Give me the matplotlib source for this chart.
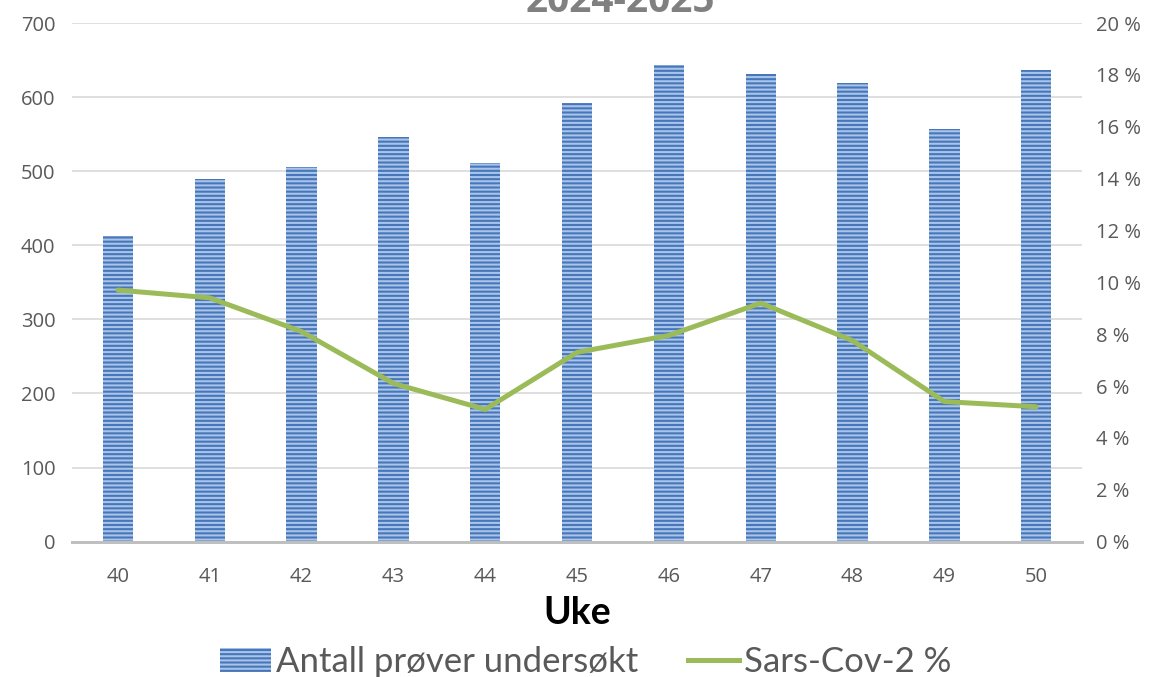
import matplotlib.pyplot as plt
from matplotlib.patches import Patch
from matplotlib.lines import Line2D
from matplotlib.ticker import FuncFormatter

plt.rcParams["font.family"] = ["Open Sans", "DejaVu Sans"]
plt.rcParams["hatch.linewidth"] = 1.5

weeks = ['40', '41', '42', '43', '44', '45', '46', '47', '48', '49', '50']
samples = [412, 489, 505, 546, 511, 592, 644, 631, 619, 557, 637]
sars_pct = [9.7, 9.4, 8.1, 6.1, 5.1, 7.3, 7.95, 9.2, 7.75, 5.4, 5.2]

bar_face = '#4677b8'
bar_hatch = '#a9c3ea'
line_col = '#9bbb59'
txt_col = '#595959'

fig = plt.figure(figsize=(11.53, 6.77), dpi=100)
ax = fig.add_axes([0.0625, 0.2, 0.876, 0.766])
ax2 = ax.twinx()

x = range(len(weeks))
ax.bar(x, samples, width=0.33, color=bar_face, edgecolor=bar_hatch,
       linewidth=0, hatch='----', zorder=2)
ax2.plot(x, sars_pct, color=line_col, linewidth=3.6, solid_capstyle='round',
         zorder=3)

ax.set_ylim(0, 700)
ax.set_yticks(range(0, 701, 100))
ax2.set_ylim(0, 20)
ax2.set_yticks(range(0, 21, 2))
ax2.yaxis.set_major_formatter(FuncFormatter(lambda v, p: '{:d} %'.format(int(v))))
ax.set_xlim(-0.5, len(weeks) - 0.5)
ax.set_xticks(list(x))
ax.set_xticklabels(weeks)

ax.grid(axis='y', color='#d9d9d9', linewidth=1.2, zorder=0)
ax.set_axisbelow(True)
for a in (ax, ax2):
    for s in ('top', 'left', 'right'):
        a.spines[s].set_visible(False)
    a.spines['bottom'].set_color('#bfbfbf')
    a.spines['bottom'].set_linewidth(2)
    a.tick_params(length=0, labelsize=14.5, labelcolor=txt_col)
ax.tick_params(axis='x', pad=18)
ax.tick_params(axis='y', pad=12)
ax2.tick_params(axis='y', pad=10)

ax.set_xlabel('Uke', fontsize=27, fontweight='bold', color='black',
              family=['Lato', 'DejaVu Sans'], labelpad=7)

fig.text(0.538, 0.982, '2024-2025', ha='center', va='baseline', fontsize=28,
         fontweight='bold', color='#808080')

handles = [Patch(facecolor=bar_face, edgecolor=bar_hatch, linewidth=0,
                 hatch='----'),
           Line2D([0], [0], color=line_col, linewidth=3.6)]
fig.legend(handles, ['Antall prøver undersøkt', 'Sars-Cov-2 %'],
           loc='center', bbox_to_anchor=(0.508, 0.022), ncol=2, frameon=False,
           prop={'family': ['Lato', 'DejaVu Sans'], 'size': 25},
           labelcolor=txt_col, handlelength=1.45, handletextpad=0.15,
           columnspacing=1.45)

plt.savefig('out.png', dpi=100)
